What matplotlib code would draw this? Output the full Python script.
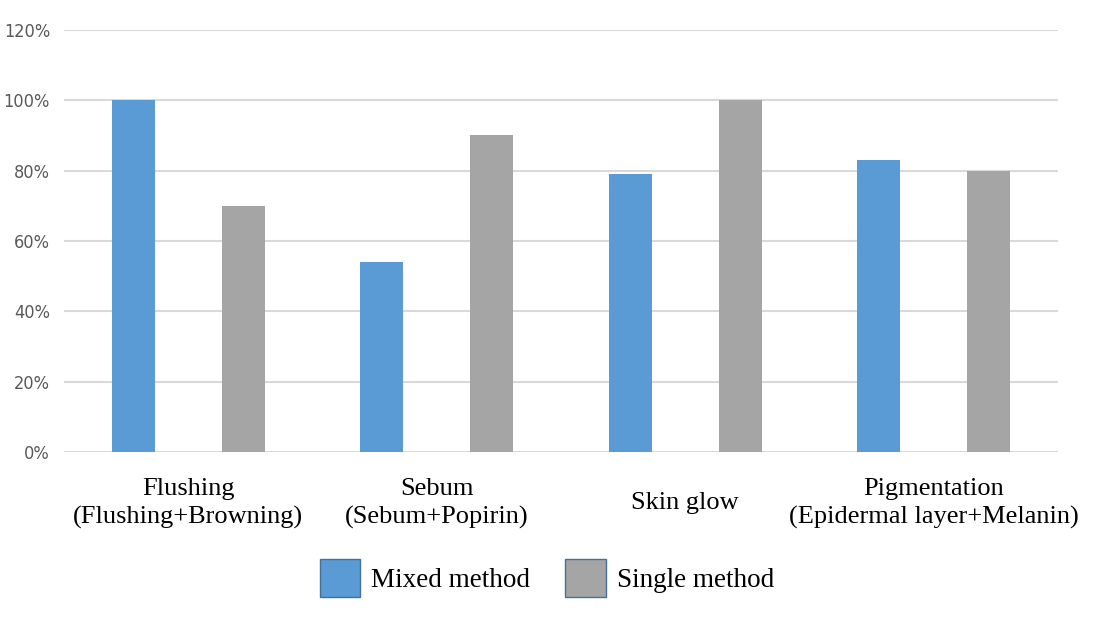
import numpy as np
import matplotlib.pyplot as plt

categories = ["Flushing\n(Flushing+Browning)", "Sebum\n(Sebum+Popirin)",
              "Skin glow", "Pigmentation\n(Epidermal layer+Melanin)"]
mixed = [100, 54, 79, 83]
single = [70, 90, 100, 80]
yticks = [0, 20, 40, 60, 80, 100, 120]

fig = plt.figure(figsize=(10.94, 6.2), dpi=100)
ax = fig.add_axes([0.0585, 0.271, 0.9085, 0.681])

x = np.arange(len(categories))
w = 0.173
ax.bar(x - 0.221, mixed, w, color="#5B9BD5", label="Mixed method", zorder=3)
ax.bar(x + 0.221, single, w, color="#A5A5A5", label="Single method", zorder=3)

ax.set_xlim(-0.5, 3.5)
ax.set_ylim(0, 120)
ax.set_yticks(yticks)
ax.set_yticklabels([f"{t}%" for t in yticks], family="DejaVu Sans",
                   stretch="condensed", fontsize=13, color="#595959")
ax.yaxis.grid(True, color="#D9D9D9", linewidth=1.5, zorder=0)
ax.tick_params(axis="both", length=0)
ax.tick_params(axis="y", pad=10)
ax.set_xticks(x)
# labels centred vertically, so the one-line label sits between the two lines of the others
ax.set_xticklabels(categories, family="Liberation Serif", fontsize=19,
                   color="#000000", linespacing=1.35, va="center")
ax.tick_params(axis="x", pad=37)
for s in ax.spines.values():
    s.set_visible(False)

leg = fig.legend(loc="center", bbox_to_anchor=(0.5, 0.068), ncol=2, frameon=False,
                 prop={"family": "Liberation Serif", "size": 19.5},
                 handlelength=1.5, handleheight=1.75, columnspacing=1.3, handletextpad=0.4)
for p in leg.get_patches():
    p.set_edgecolor("#41719C")
    p.set_linewidth(1)

fig.savefig("out.png", dpi=100)
